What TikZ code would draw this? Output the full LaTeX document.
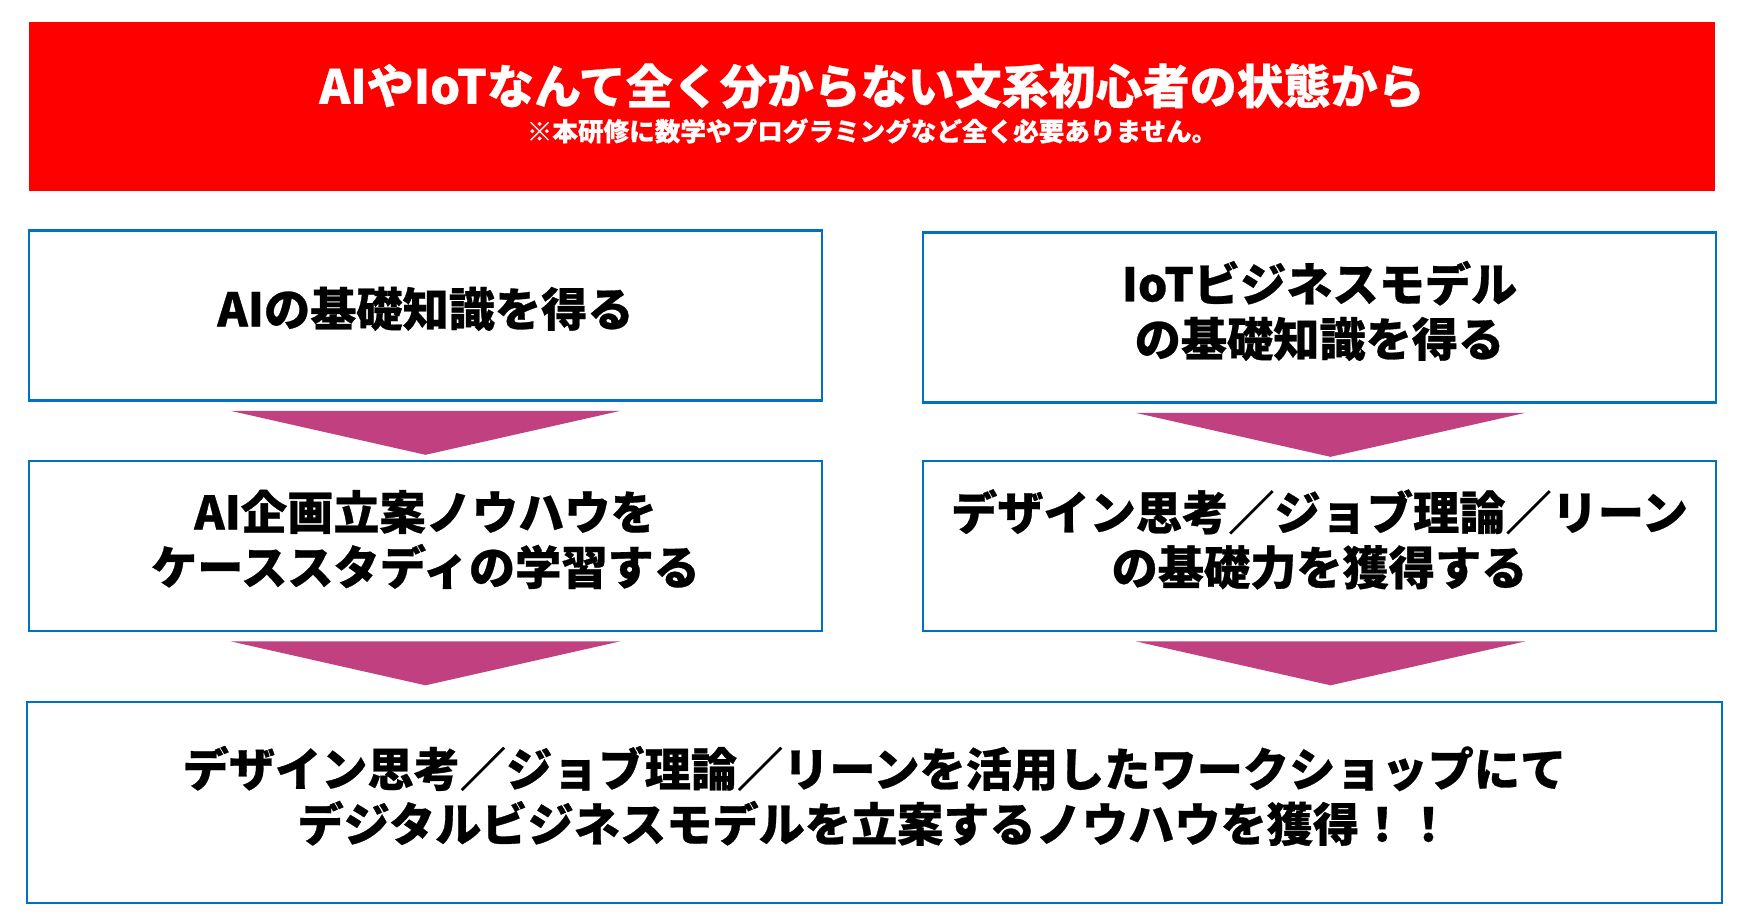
\documentclass[tikz,border=0pt]{standalone}
\usepackage{fontspec}
\setmainfont{Noto Sans CJK JP}[BoldFeatures={FakeBold=0.6}]
\definecolor{boxblue}{HTML}{0070C0}
\definecolor{arrowpink}{HTML}{C04080}
\definecolor{topred}{HTML}{FF0000}
\begin{document}
\begin{tikzpicture}[x=0.5pt,y=-0.5pt,
  stepbox/.style={draw=boxblue,line width=1.3pt,fill=white,inner sep=0pt,
    minimum width=396.5pt,minimum height=85pt},
  steptext/.style={inner sep=0pt,align=center,
    font=\fontsize{23.1pt}{27.5pt}\selectfont\bfseries},
  downarrow/.style={fill=arrowpink,draw=none}]
\useasboundingbox (0,0) rectangle (1745,917);
\fill[white] (0,0) rectangle (1745,917);
\node[fill=topred,inner sep=0pt,minimum width=843pt,minimum height=84.5pt] (head) at (872,106.5) {};
\node[inner sep=0pt,text=white,font=\fontsize{23.5pt}{28pt}\selectfont\bfseries] (headt) at (872,86)
  {AIやIoTなんて全く分からない文系初心者の状態から};
\node[inner sep=0pt,text=white,font=\fontsize{12.8pt}{15pt}\selectfont\bfseries] (heads) at (872,131)
  {※本研修に数学やプログラミングなど全く必要ありません。};
\node[stepbox] (l1) at (425.5,315.5) {};
\node[stepbox] (r1) at (1319.5,317.5) {};
\node[stepbox] (l2) at (425.5,546) {};
\node[stepbox] (r2) at (1319.5,546) {};
\node[stepbox,minimum width=847.5pt,minimum height=100.5pt] (fin) at (874.5,802.5) {};
\node[steptext] (l1t) at ([yshift=3.3pt]l1.center) {AIの基礎知識を得る};
\node[steptext] (r1t) at ([yshift=3.3pt]r1.center) {IoTビジネスモデル\\の基礎知識を得る};
\node[steptext] (l2t) at ([yshift=3.3pt]l2.center) {AI企画立案ノウハウを\\ケーススタディの学習する};
\node[steptext] (r2t) at ([yshift=3.3pt]r2.center) {デザイン思考／ジョブ理論／リーン\\の基礎力を獲得する};
\node[steptext] (fint) at ([yshift=3.3pt]fin.center)
  {デザイン思考／ジョブ理論／リーンを活用したワークショップにて\\デジタルビジネスモデルを立案するノウハウを獲得！！};
\foreach \a/\s in {l1/0pt,r1/5.5pt,l2/0pt,r2/5.5pt}{
  \fill[downarrow] ([xshift=\s-97.5pt,yshift=-4.5pt]\a.south) -- ([xshift=\s+97.5pt,yshift=-4.5pt]\a.south)
    -- ([xshift=\s,yshift=-26.5pt]\a.south) -- cycle;
}
\end{tikzpicture}
\end{document}
